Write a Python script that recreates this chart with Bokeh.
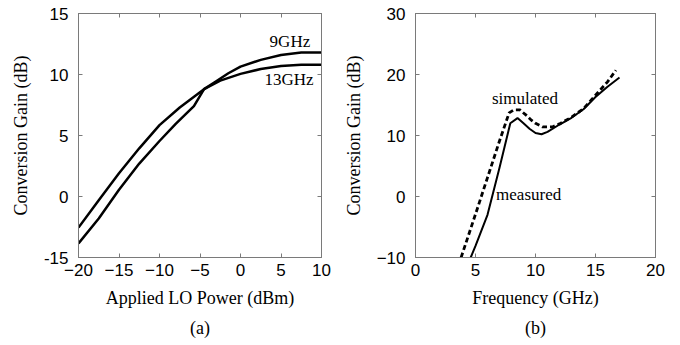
from bokeh.plotting import figure
from bokeh.layouts import row
from bokeh.models import LinearAxis, FixedTicker, Range1d, Title
from bokeh.core.properties import value
from bokeh.embed import file_html
from bokeh.resources import INLINE

# ---------- data: panel (a) ----------
lo_power_9ghz = [-20, -17.5, -15, -12.5, -10, -8, -5.75, -4.5, -3, -1.5, 0, 2.5, 5, 7.5, 10]
gain_9ghz = [-3.85, -1.8, 0.55, 2.7, 4.55, 5.95, 7.4, 8.8, 9.45, 10.1, 10.65, 11.2, 11.6, 11.8, 11.8]
lo_power_13ghz = [-20, -17.5, -15, -12.5, -10, -7.5, -5, -4.5, -2.5, 0, 2.5, 5, 7.5, 10]
gain_13ghz = [-2.55, -0.3, 1.9, 3.95, 5.85, 7.3, 8.55, 8.8, 9.5, 10.05, 10.45, 10.7, 10.8, 10.8]
a_xticks = [-20, -15, -10, -5, 0, 5, 10]
a_yticks = [-5, 0, 5, 10, 15]
a_ytick_labels = {-5: "-15", 0: "0", 5: "5", 10: "10", 15: "15"}
a_labels = ["9GHz", "13GHz"]
a_label_x = [6.1, 6.0]
a_label_y = [12.7, 9.6]

# ---------- data: panel (b) ----------
freq_meas = [4.6, 5.0, 6.0, 7.0, 7.9, 8.5, 9.0, 9.5, 10.0, 10.5, 11.0, 12.0, 13.0, 14.0, 15.0, 16.0, 17.0]
gain_meas = [-10, -8.1, -3.0, 4.7, 12.0, 12.85, 12.0, 11.1, 10.4, 10.2, 10.6, 11.8, 12.9, 14.3, 16.3, 18.0, 19.5]
freq_sim = [3.8, 5.0, 6.0, 7.0, 7.8, 8.2, 8.7, 9.3, 9.6, 10.0, 10.6, 11.4, 12.0, 13.0, 14.0, 15.0, 16.0, 16.7]
gain_sim = [-10, -2.9, 3.1, 9.1, 13.7, 14.2, 14.2, 13.2, 12.6, 12.0, 11.4, 11.4, 11.9, 13.0, 14.4, 16.6, 18.8, 20.7]
b_xticks = [0, 5, 10, 15, 20]
b_yticks = [-10, 0, 10, 20, 30]
b_labels = ["simulated", "measured"]
b_label_x = [9.12, 9.43]
b_label_y = [16.1, 0.28]

SERIF = "Liberation Serif"
SANS = "Liberation Sans"
GRAY = "#7a7a7a"


def style_axis(ax, ticks, show_labels, overrides=None):
    ax.ticker = FixedTicker(ticks=ticks)
    ax.axis_line_color = GRAY
    ax.axis_line_width = 1
    ax.major_tick_line_color = GRAY
    ax.major_tick_in = 4
    ax.major_tick_out = 0
    ax.minor_tick_in = 0
    ax.minor_tick_out = 0
    ax.major_label_text_font = SANS
    ax.major_label_text_color = "black"
    ax.axis_label_text_font = SERIF
    ax.axis_label_text_font_style = "normal"
    ax.axis_label_text_font_size = "18px"
    ax.axis_label_text_color = "black"
    if show_labels:
        ax.major_label_text_font_size = "17px"
        if overrides:
            ax.major_label_overrides = overrides
    else:
        ax.major_label_overrides = {t: "" for t in ticks}
        ax.major_label_text_font_size = "1px"
        ax.major_label_standoff = 0


def make_fig(xr, yr, xticks, yticks, xlabel, ylabel, caption, cap_offset,
             mbl, mbr, yover=None):
    p = figure(width=340, height=345, x_range=Range1d(*xr), y_range=Range1d(*yr),
               output_backend="svg", toolbar_location=None,
               min_border_left=mbl, min_border_right=mbr, min_border_top=13,
               min_border_bottom=88)
    p.grid.visible = False
    p.outline_line_color = GRAY
    p.background_fill_color = "white"
    p.border_fill_color = "white"
    style_axis(p.xaxis[0], xticks, True)
    style_axis(p.yaxis[0], yticks, True, yover)
    p.xaxis[0].axis_label = xlabel
    p.yaxis[0].axis_label = ylabel
    p.xaxis[0].major_label_standoff = 6
    p.yaxis[0].major_label_standoff = 10
    p.xaxis[0].axis_label_standoff = 9
    p.yaxis[0].axis_label_standoff = 10
    top = LinearAxis()
    style_axis(top, xticks, False)
    p.add_layout(top, "above")
    right = LinearAxis()
    style_axis(right, yticks, False)
    p.add_layout(right, "right")
    p.add_layout(Title(text=caption, align="center", text_font=SERIF,
                       text_font_size="18px", text_font_style="normal",
                       text_color="black", offset=cap_offset,
                       standoff=11), "below")
    return p


pa = make_fig((-20, 10), (-5, 15), a_xticks, a_yticks,
              "Applied LO Power (dBm)", "Conversion Gain (dB)", "(a)", 6,
              78, 19, a_ytick_labels)
pa.line(lo_power_9ghz, gain_9ghz, line_color="black", line_width=2.5)
pa.line(lo_power_13ghz, gain_13ghz, line_color="black", line_width=2.5)
pa.text(x=a_label_x, y=a_label_y, text=a_labels, text_font=value(SERIF),
        text_font_size="17px", text_align="center", text_baseline="middle",
        text_color="black")

pb = make_fig((0, 20), (-10, 30), b_xticks, b_yticks,
              "Frequency (GHz)", "Conversion Gain (dB)", "(b)", -8,
              70, 25)
pb.line(freq_sim, gain_sim, line_color="black", line_width=2.8, line_dash="5 3")
pb.line(freq_meas, gain_meas, line_color="black", line_width=2)
pb.text(x=b_label_x, y=b_label_y, text=b_labels, text_font=value(SERIF),
        text_font_size="17px", text_align="center", text_baseline="middle",
        text_color="black")

layout = row(pa, pb)
open("out.html", "w").write(file_html(layout, INLINE))
